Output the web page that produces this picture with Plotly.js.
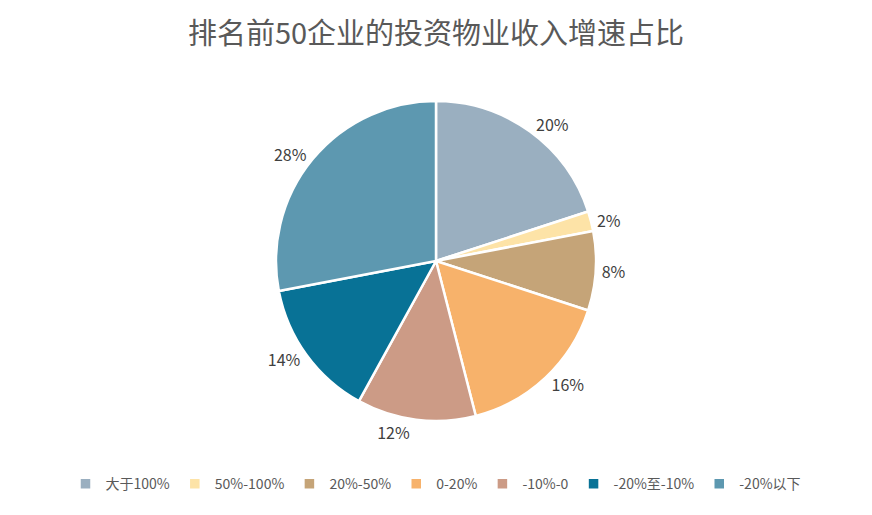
<!DOCTYPE html>
<html><head><meta charset="utf-8">
<script src="https://cdn.plot.ly/plotly-3.0.1.min.js"></script>
<style>html,body{margin:0;padding:0;background:#fff}#chart{width:872px;height:515px}</style>
</head><body><div id="chart"></div>
<script>
const categories = ["大于100%", "50%-100%", "20%-50%", "0-20%", "-10%-0", "-20%至-10%", "-20%以下"];
const shares = [20, 2, 8, 16, 12, 14, 28];
const colors = ["#9AAFC0", "#FDE3A7", "#C5A478", "#F7B26B", "#CC9B86", "#087296", "#5D98B0"];
const title = "排名前50企业的投资物业收入增速占比";

const font = "'Noto Sans CJK SC', 'Noto Sans', sans-serif";
Plotly.newPlot("chart", [{
  type: "pie",
  labels: categories,
  values: shares,
  sort: false,
  direction: "clockwise",
  rotation: 0,
  marker: {colors: colors, line: {color: "#ffffff", width: 2.5}},
  textposition: "outside",
  texttemplate: "%{value}%",
  textfont: {family: font, size: 16, color: "#404040"},
  hoverinfo: "label+value",
  domain: {x: [0.1, 0.9], y: [0.1825, 0.8039]}
}], {
  width: 872, height: 515,
  margin: {l: 0, r: 0, t: 0, b: 0},
  paper_bgcolor: "#fff",
  title: {text: title, x: 0.5, xanchor: "center", y: 0.935, yanchor: "middle",
          font: {family: font, size: 29, color: "#595959"}},
  showlegend: true,
  legend: {orientation: "h", x: 0.5, xanchor: "center", y: 0.06, yanchor: "middle",
           font: {family: font, size: 14, color: "#595959"}, itemwidth: 30,
           tracegroupgap: 0},
  font: {family: font}
}, {displayModeBar: false, staticPlot: true});
</script></body></html>
